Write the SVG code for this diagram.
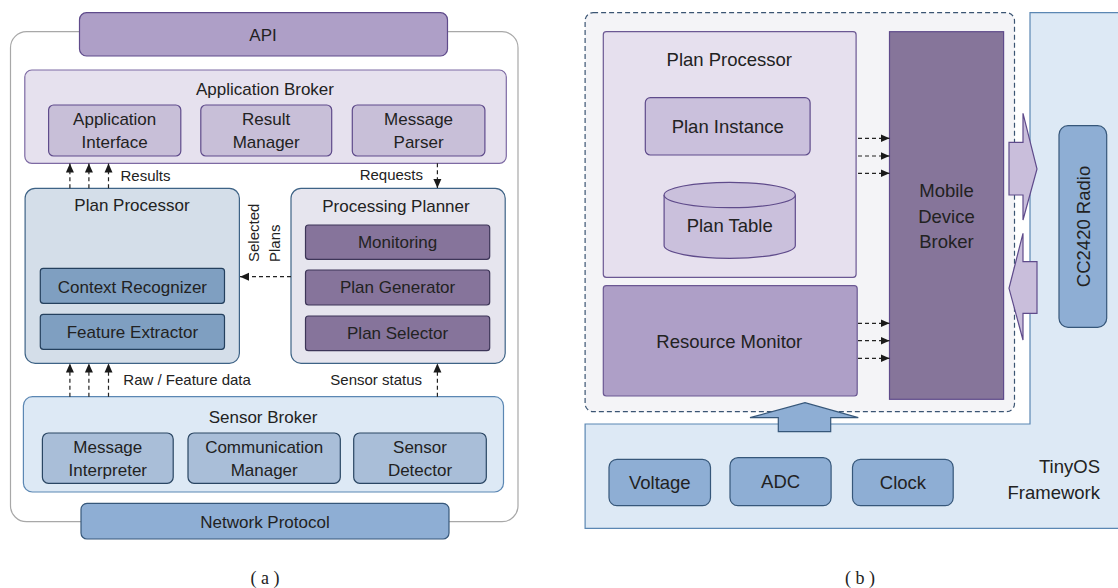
<svg xmlns="http://www.w3.org/2000/svg" width="1118" height="588" viewBox="0 0 1118 588">
<defs>
<marker id="ah" markerWidth="10" markerHeight="10" refX="9" refY="5" orient="auto" markerUnits="userSpaceOnUse"><path d="M0,1 L9,5 L0,9 z" fill="#1a1a1a"/></marker>
<style>
text{font-family:"Liberation Sans",Arial,sans-serif;fill:#222;}
.t17{font-size:17px;text-anchor:middle;}
.t18{font-size:18.5px;text-anchor:middle;}
.lbl{font-size:15px;}
.cap{font-family:"Liberation Serif","Times New Roman",serif;font-size:18px;text-anchor:middle;}
.dash{stroke:#222;stroke-width:1.2;stroke-dasharray:4 3;fill:none;marker-end:url(#ah);}
.pDark{fill:#ae9fc7;stroke:#5f4b8b;stroke-width:1.2;}
.pLight{fill:#e6e1ee;stroke:#7d6aa3;stroke-width:1.2;}
.pMid{fill:#c8bfd8;stroke:#5f4b8b;stroke-width:1.2;}
.pDeep{fill:#86749b;stroke:#3d3558;stroke-width:1.2;}
.bLight{fill:#dde9f5;stroke:#5b87b3;stroke-width:1.2;}
.bPale{fill:#d4dee9;stroke:#3e6386;stroke-width:1.2;}
.bSub{fill:#a9bed8;stroke:#2a4663;stroke-width:1.2;}
.bMid{fill:#7f9fc1;stroke:#24405e;stroke-width:1.2;}
.bBlue{fill:#8eaed4;stroke:#36577a;stroke-width:1.2;}
.gray{fill:#e6e5ee;stroke:#3e6386;stroke-width:1.2;}
</style>
</defs>

<!-- Panel (a) -->
<g id="a-container"><rect x="10.5" y="31.7" width="507.5" height="490" rx="16" fill="#ffffff" stroke="#a8a8a8" stroke-width="1.2"/></g>
<g id="a-api"><rect class="pDark" x="79.5" y="12.7" width="368" height="43.3" rx="7"/><text class="t17" x="263" y="41">API</text></g>
<g id="a-app-broker"><rect class="pLight" x="24.8" y="70" width="481.5" height="93.3" rx="7"/><text class="t17" x="265" y="95">Application Broker</text></g>
<g id="a-app-interface"><rect class="pMid" x="48.6" y="105" width="132.2" height="51" rx="5"/><text class="t17" x="114.7" y="125">Application</text><text class="t17" x="114.7" y="148">Interface</text></g>
<g id="a-result-manager"><rect class="pMid" x="200.8" y="105" width="130.9" height="51" rx="5"/><text class="t17" x="266.2" y="125">Result</text><text class="t17" x="266.2" y="148">Manager</text></g>
<g id="a-message-parser"><rect class="pMid" x="352.3" y="105" width="132.6" height="51" rx="5"/><text class="t17" x="418.6" y="125">Message</text><text class="t17" x="418.6" y="148">Parser</text></g>

<g id="a-plan-processor"><rect class="bPale" x="25.1" y="188.3" width="214.3" height="175" rx="10"/><text class="t17" x="132" y="211">Plan Processor</text></g>
<g id="a-context-recognizer"><rect class="bMid" x="40.3" y="268.3" width="184.2" height="35" rx="3"/><text class="t17" x="132.4" y="292.7">Context Recognizer</text></g>
<g id="a-feature-extractor"><rect class="bMid" x="40.3" y="314.3" width="184.2" height="35" rx="3"/><text class="t17" x="132.4" y="338.3">Feature Extractor</text></g>

<g id="a-processing-planner"><rect class="gray" x="291" y="188.3" width="214.2" height="175" rx="10"/><text class="t17" x="396" y="211.7">Processing Planner</text></g>
<g id="a-monitoring"><rect class="pDeep" x="305.5" y="225" width="184.2" height="34.3" rx="3"/><text class="t17" x="397.6" y="248.3">Monitoring</text></g>
<g id="a-plan-generator"><rect class="pDeep" x="305.5" y="270" width="184.2" height="35" rx="3"/><text class="t17" x="397.6" y="293.3">Plan Generator</text></g>
<g id="a-plan-selector"><rect class="pDeep" x="305.5" y="316" width="184.2" height="34.7" rx="3"/><text class="t17" x="397.6" y="339.3">Plan Selector</text></g>

<g id="a-sensor-broker"><rect class="bLight" x="23.4" y="396.7" width="480.1" height="95.3" rx="9"/><text class="t17" x="263" y="422.7">Sensor Broker</text></g>
<g id="a-message-interpreter"><rect class="bSub" x="42.4" y="433" width="130.8" height="50.3" rx="6"/><text class="t17" x="107.8" y="452.7">Message</text><text class="t17" x="107.8" y="476">Interpreter</text></g>
<g id="a-communication-manager"><rect class="bSub" x="188" y="433" width="152.3" height="50.3" rx="6"/><text class="t17" x="264.2" y="452.7">Communication</text><text class="t17" x="264.2" y="476">Manager</text></g>
<g id="a-sensor-detector"><rect class="bSub" x="353.7" y="433" width="132.6" height="50.3" rx="6"/><text class="t17" x="420" y="452.7">Sensor</text><text class="t17" x="420" y="476">Detector</text></g>
<g id="a-network-protocol"><rect class="bBlue" x="81" y="503.3" width="368" height="35.7" rx="6"/><text class="t17" x="265" y="528.3">Network Protocol</text></g>

<g id="a-connectors">
<line class="dash" x1="69.9" y1="188.3" x2="69.9" y2="163.5"/>
<line class="dash" x1="88.9" y1="188.3" x2="88.9" y2="163.5"/>
<line class="dash" x1="108.5" y1="188.3" x2="108.5" y2="163.5"/>
<line class="dash" x1="437.4" y1="163.3" x2="437.4" y2="188"/>
<line class="dash" x1="291" y1="276.7" x2="240" y2="276.7"/>
<line class="dash" x1="69.9" y1="396.7" x2="69.9" y2="363.5"/>
<line class="dash" x1="88.9" y1="396.7" x2="88.9" y2="363.5"/>
<line class="dash" x1="108.5" y1="396.7" x2="108.5" y2="363.5"/>
<line class="dash" x1="437.4" y1="396.7" x2="437.4" y2="363.5"/>
<text class="lbl" x="120.5" y="181">Results</text>
<text class="lbl" x="423" y="180" text-anchor="end">Requests</text>
<text class="lbl" transform="translate(259,262) rotate(-90)">Selected</text>
<text class="lbl" transform="translate(280,262) rotate(-90)">Plans</text>
<text class="lbl" x="123.3" y="385">Raw  / Feature data</text>
<text class="lbl" x="422" y="385" text-anchor="end">Sensor status</text>
</g>
<text class="cap" x="265" y="584">( a )</text>

<!-- Panel (b) -->
<g id="b-tinyos"><path class="bLight" d="M1030,12.7 L1125,12.7 L1125,528.3 L585.1,528.3 L585.1,424 L1030,424 Z"/><text x="1100" y="472.7" style="font-size:18.5px;text-anchor:end;">TinyOS</text><text x="1100" y="499.3" style="font-size:18.5px;text-anchor:end;">Framework</text></g>
<g id="b-container"><rect x="585.1" y="12.7" width="429.4" height="399" rx="8" fill="#f4f4f7" stroke="#3b5573" stroke-width="1.2" stroke-dasharray="5 3"/></g>
<g id="b-plan-processor"><rect x="603.3" y="31.7" width="252.8" height="245.6" rx="3" fill="#e6e0ee" stroke="#6b5893" stroke-width="1.2"/><text class="t18" x="729.3" y="65.7">Plan Processor</text></g>
<g id="b-plan-instance"><rect x="645.3" y="97.7" width="164.8" height="57.3" rx="5" fill="#cac0dc" stroke="#5f4b8b" stroke-width="1.2"/><text class="t18" x="727.7" y="132.7">Plan Instance</text></g>
<g id="b-plan-table"><path d="M664.1,195 L664.1,245.6 A65.6,12.7 0 0 0 795.3,245.6 L795.3,195" fill="#cac0dc" stroke="#5f4b8b" stroke-width="1.2"/><ellipse cx="729.7" cy="195" rx="65.6" ry="12.7" fill="#cac0dc" stroke="#5f4b8b" stroke-width="1.2"/><text class="t18" x="729.7" y="232.3">Plan Table</text></g>
<g id="b-resource-monitor"><rect x="603.3" y="285.7" width="253.9" height="110.3" rx="3" fill="#ae9fc7" stroke="#6b5893" stroke-width="1.2"/><text class="t18" x="729.3" y="348.3">Resource Monitor</text></g>
<g id="b-mobile-device-broker"><rect x="889.5" y="31.7" width="114.1" height="367.6" fill="#86759a" stroke="#5f4b8b" stroke-width="1.2"/><text class="t18" x="946.5" y="196.7">Mobile</text><text class="t18" x="946.5" y="222.7">Device</text><text class="t18" x="946.5" y="248.3">Broker</text></g>
<g id="b-cc2420"><rect class="bBlue" x="1059" y="125.7" width="47.7" height="201.6" rx="9"/><text transform="translate(1090,226.5) rotate(-90)" style="font-size:18.5px;text-anchor:middle;">CC2420 Radio</text></g>
<g id="b-voltage"><rect class="bBlue" x="609" y="459.3" width="101.5" height="46.4" rx="8"/><text class="t18" x="659.8" y="489.3">Voltage</text></g>
<g id="b-adc"><rect class="bBlue" x="730" y="457.7" width="101.1" height="48" rx="8"/><text class="t18" x="780.6" y="488.3">ADC</text></g>
<g id="b-clock"><rect class="bBlue" x="852.5" y="459.3" width="100.7" height="46.4" rx="8"/><text class="t18" x="902.9" y="489.3">Clock</text></g>

<g id="b-connectors">
<line class="dash" x1="858" y1="138.3" x2="889.5" y2="138.3"/>
<line class="dash" x1="858" y1="156" x2="889.5" y2="156"/>
<line class="dash" x1="858" y1="173.3" x2="889.5" y2="173.3"/>
<line class="dash" x1="858" y1="323.3" x2="889.5" y2="323.3"/>
<line class="dash" x1="858" y1="340.7" x2="889.5" y2="340.7"/>
<line class="dash" x1="858" y1="358.3" x2="889.5" y2="358.3"/>
<path d="M1009,142.3 L1023,142.3 L1023,113.3 L1037,169 L1023,220 L1023,195 L1009,195 Z" fill="#c9bedb" stroke="#5f4b8b" stroke-width="1.2"/>
<path d="M1037,261.7 L1023,261.7 L1023,233.3 L1009,288.3 L1023,340 L1023,313.3 L1037,313.3 Z" fill="#c9bedb" stroke="#5f4b8b" stroke-width="1.2"/>
<path d="M778.3,431.7 L778.3,417.7 L750,417.7 L805,402.7 L858.3,417.7 L830.7,417.7 L830.7,431.7 Z" fill="#8eaed4" stroke="#36577a" stroke-width="1.2"/>
</g>
<text class="cap" x="860" y="584">( b )</text>
</svg>
